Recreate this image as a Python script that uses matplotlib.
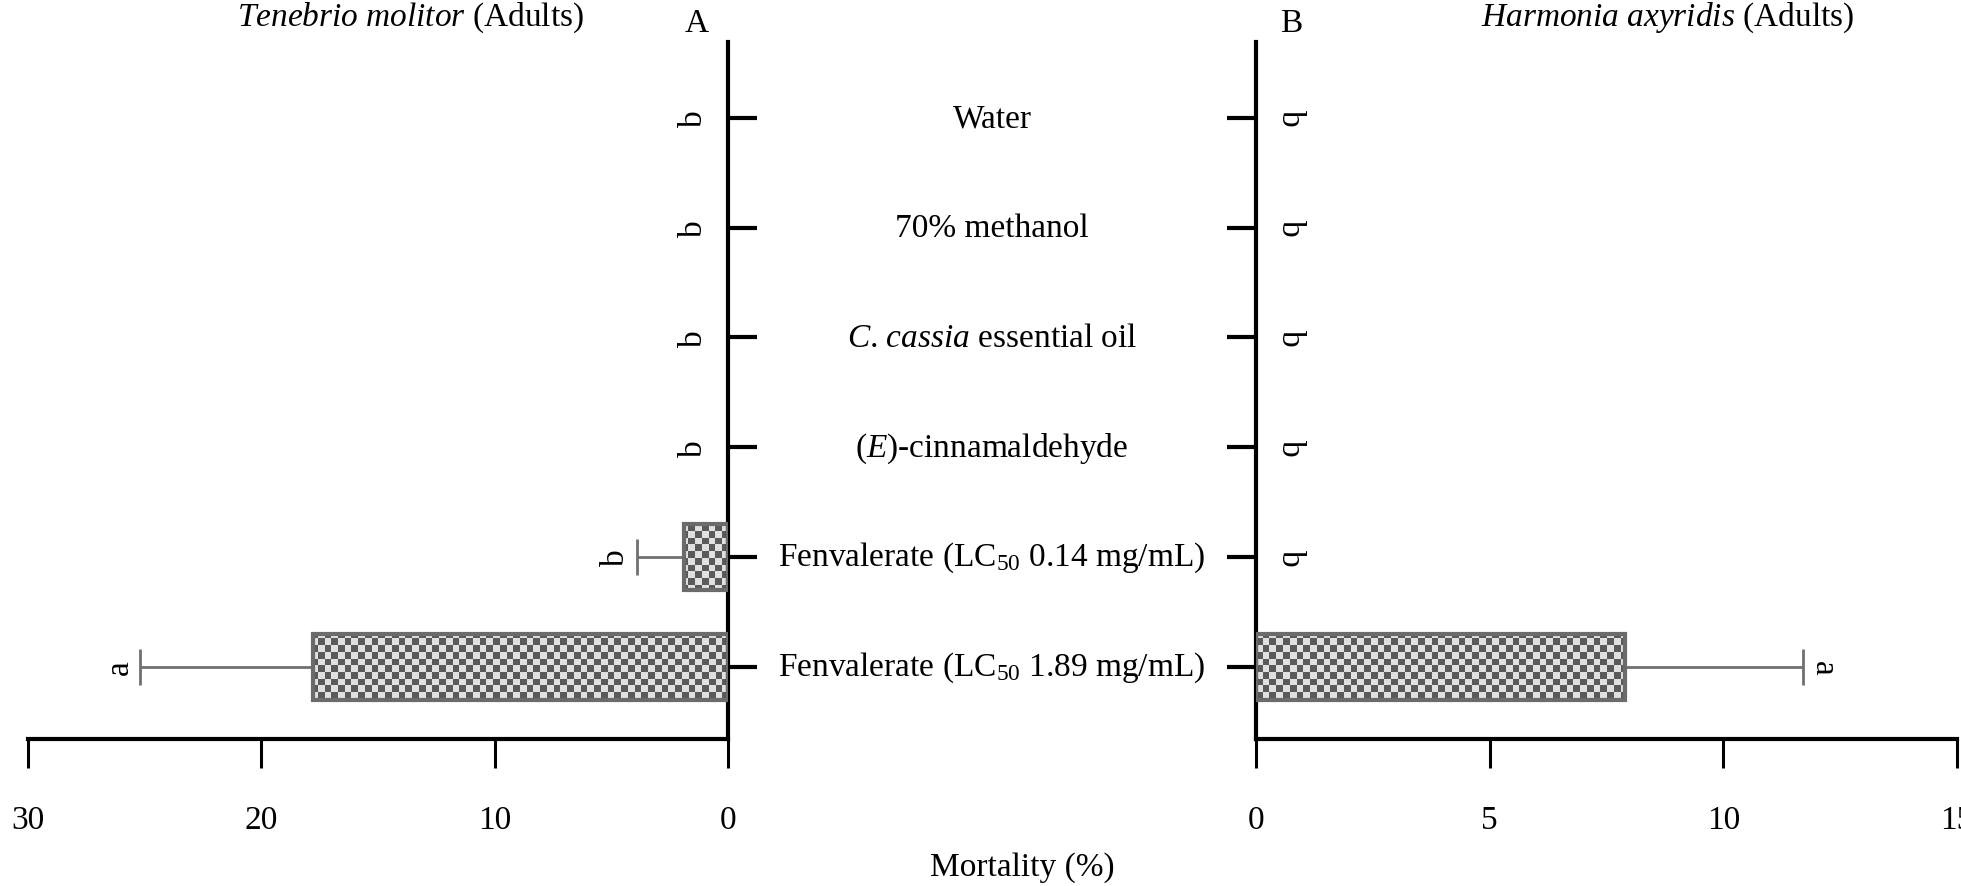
import numpy as np
import matplotlib
matplotlib.use("Agg")
import matplotlib.pyplot as plt
from matplotlib.transforms import blended_transform_factory

plt.rcParams['font.family'] = ['Liberation Serif', 'DejaVu Serif']
plt.rcParams['mathtext.fontset'] = 'custom'
plt.rcParams['mathtext.rm'] = 'Liberation Serif'
plt.rcParams['mathtext.it'] = 'Liberation Serif:italic'

# datos (de arriba hacia abajo)
tratamientos = ['Water', '70% methanol', r'$\mathit{C}$. $\mathit{cassia}$ essential oil',
                r'($\mathit{E}$)-cinnamaldehyde',
                r'Fenvalerate (LC$_{50}$ 0.14 mg/mL)',
                r'Fenvalerate (LC$_{50}$ 1.89 mg/mL)']
tenebrio_media = [0, 0, 0, 0, 1.9, 17.8]
tenebrio_error = [0, 0, 0, 0, 2.0, 7.4]
tenebrio_letras = ['b', 'b', 'b', 'b', 'b', 'a']
harmonia_media = [0, 0, 0, 0, 0, 7.9]
harmonia_error = [0, 0, 0, 0, 0, 3.8]
harmonia_letras = ['b', 'b', 'b', 'b', 'b', 'a']
ticks_izq = [30, 20, 10, 0]
ticks_der = [0, 5, 10, 15]

n = len(tratamientos)
ypos = np.arange(n)[::-1]
fs = 24
borde = '#6b6b6b'

fig = plt.figure(figsize=(19.61, 8.87), dpi=100)
ax_izq = fig.add_axes([28 / 1961, 147 / 887, 700 / 1961, 697 / 887])
ax_der = fig.add_axes([1256 / 1961, 147 / 887, 701 / 1961, 697 / 887])

# tablero de ajedrez para el relleno de las barras
celdas = np.indices((104, 104)).sum(axis=0) % 2
cmap = matplotlib.colors.ListedColormap(['#e0e0e0', '#5a5a5a'])


def dibujar(ax, medias, errores, letras, xmax, rot, lado, signo):
    barras = ax.barh(ypos, medias, height=0.6, facecolor='none',
                     edgecolor=borde, linewidth=3, zorder=3)
    for b, m in zip(barras, medias):
        if m > 0:
            im = ax.imshow(celdas, cmap=cmap, extent=(0, xmax, -0.656, n - 1 + 0.69),
                           aspect='auto', interpolation='nearest', zorder=2)
            im.set_clip_path(b)
        else:
            b.set_edgecolor('none')
    ax.set_xlim(0, xmax)
    ax.set_ylim(-0.656, n - 1 + 0.69)
    medias = np.array(medias)
    errores = np.array(errores)
    con_error = errores > 0
    ax.errorbar(medias[con_error], ypos[con_error],
                xerr=[np.zeros(con_error.sum()), errores[con_error]],
                fmt='none', ecolor='#707070', elinewidth=2, capsize=13,
                capthick=2, zorder=2.5)
    for y, m, e, l in zip(ypos, medias, errores, letras):
        desp = 25 if m == 0 else 15
        ax.annotate(l, (m + e, y), xytext=(signo * desp, 0), textcoords='offset points',
                    ha='center', va='center', rotation=rot, fontsize=fs)
    for s in ['top', 'left', 'right', 'bottom']:
        ax.spines[s].set_visible(False)
    ax.spines['bottom'].set_visible(True)
    ax.spines[lado].set_visible(True)
    for s in ['bottom', lado]:
        ax.spines[s].set_linewidth(3)
    ax.tick_params(axis='x', length=21, width=2.2, direction='out',
                   labelsize=fs, pad=26)
    ax.tick_params(axis='y', length=21, width=3, direction='out',
                   labelleft=False, labelright=False,
                   left=(lado == 'left'), right=(lado == 'right'))
    ax.set_yticks(ypos)


dibujar(ax_izq, tenebrio_media, tenebrio_error, tenebrio_letras, 30, 90, 'right', -1)
ax_izq.invert_xaxis()
ax_izq.set_xticks(ticks_izq)
dibujar(ax_der, harmonia_media, harmonia_error, harmonia_letras, 15, -90, 'left', 1)
ax_der.set_xticks(ticks_der)

# nombres de los tratamientos en el centro
trans = blended_transform_factory(fig.transFigure, ax_izq.transData)
for y, t in zip(ypos, tratamientos):
    ax_izq.text(992 / 1961, y, t, transform=trans, ha='center', va='center',
                fontsize=fs, clip_on=False)

fig.text(410 / 1961, 1 - 18 / 887, r'$\mathit{Tenebrio\ molitor}$ (Adults)',
         ha='center', va='center', fontsize=fs)
fig.text(697 / 1961, 1 - 24 / 887, 'A', ha='center', va='center', fontsize=fs)
fig.text(1291 / 1961, 1 - 24 / 887, 'B', ha='center', va='center', fontsize=fs)
fig.text(1668 / 1961, 1 - 18 / 887, r'$\mathit{Harmonia\ axyridis}$ (Adults)',
         ha='center', va='center', fontsize=fs)
fig.text(1022 / 1961, 1 - 868 / 887, 'Mortality (%)', ha='center', va='center',
         fontsize=fs)

plt.savefig("out.png", dpi=100)
plt.close()
